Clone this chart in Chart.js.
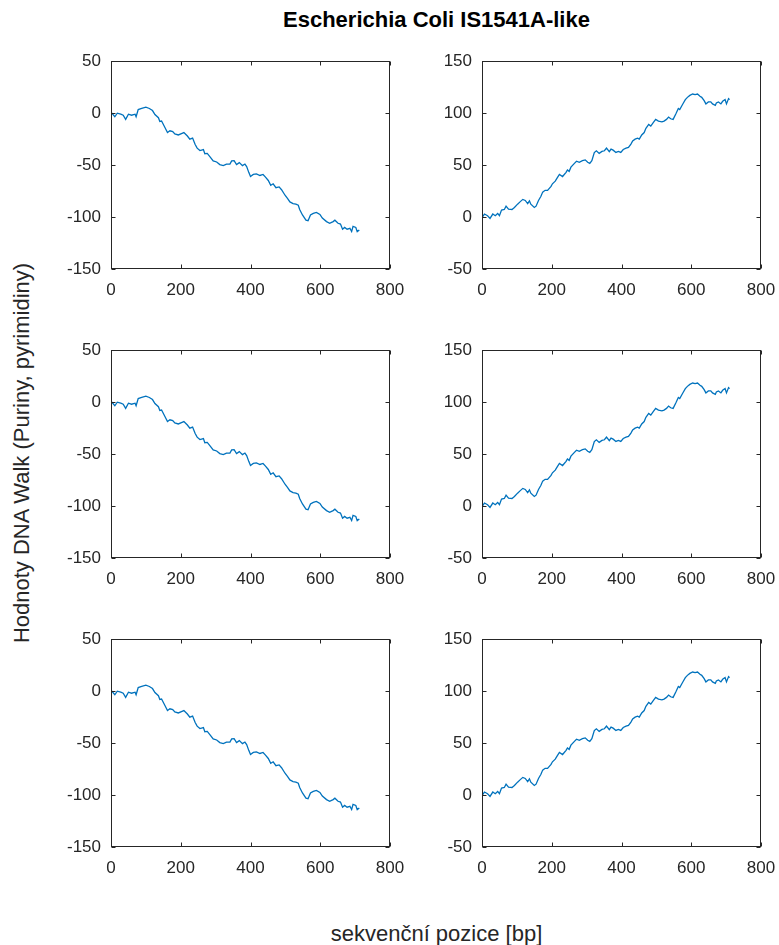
<!DOCTYPE html>
<html>
<head>
<meta charset="utf-8">
<script src="https://cdn.jsdelivr.net/npm/chart.js@4.4.1/dist/chart.umd.min.js"></script>
<style>
  html, body { margin:0; padding:0; background:#fff; }
  body { width:779px; height:945px; position:relative; overflow:hidden; font-family:"Liberation Sans", Arial, sans-serif; }
  canvas { position:absolute; }
  .txt { position:absolute; color:#000; white-space:nowrap; line-height:1; }
</style>
</head>
<body>
<div class="txt" id="title" style="left:0;width:873px;top:9px;text-align:center;font-weight:bold;font-size:22px;">Escherichia Coli IS1541A-like</div>
<div class="txt" id="ylab" style="left:22px;top:453px;font-size:22px;color:#262626;transform:translate(-50%,-50%) rotate(-90deg);">Hodnoty DNA Walk (Puriny, pyrimidiny)</div>
<div class="txt" id="xlab" style="left:0;width:873px;top:923px;text-align:center;font-size:22px;color:#262626;">sekvenční pozice [bp]</div>

<script>
// ---- Data ----
const xTicks = [0, 200, 400, 600, 800];
const yTicksLeft = [-150, -100, -50, 0, 50];
const yTicksRight = [-50, 0, 50, 100, 150];

// Left column: purine/pyrimidine walk (falling)
const posLeft = [0, 11, 18, 28, 35, 42, 50, 59, 69, 72, 78, 88, 100, 110, 119, 126, 136, 140, 145, 155,
  162, 169, 177, 183, 193, 202, 209, 219, 226, 234, 241, 247, 255, 265, 269, 276, 284, 293, 303, 312,
  322, 331, 341, 346, 353, 360, 368, 377, 384, 389, 395, 400, 408, 417, 427, 436, 443, 451, 458, 465,
  473, 482, 489, 499, 506, 513, 522, 530, 537, 541, 549, 559, 565, 572, 580, 589, 599, 606, 618, 627,
  637, 642, 651, 658, 664, 670, 677, 685, 690, 694, 702, 706, 712];
const walkLeft = [1, -3.5, 0, -1, -2, -6, -1, -2, -1, -3.5, 3.5, 4.5, 5.7, 4.5, 2.5, -1.3, -4.4, -8, -7.6, -14,
  -18.7, -17, -17.8, -20, -21, -19.7, -18.7, -22, -25, -24, -30, -33.7, -36, -35, -39, -38.7, -42, -46, -47, -49.5,
  -50.5, -49, -49, -46, -45.7, -49.5, -47.6, -50.5, -49, -51.4, -57, -61, -59, -58.4, -60, -59, -61.6, -64.8, -69.5, -68,
  -71.7, -71, -73.7, -79, -82, -85.4, -87, -87.6, -88.6, -92.7, -98, -103, -103.5, -98, -96.5, -95.5, -97.5, -101, -104.4, -106,
  -104.4, -103, -106, -106.7, -111.7, -110, -111.7, -110.8, -114, -109, -110, -114, -112.4];

// Right column: walk (rising)
const posRight = [0, 7, 16, 23, 31, 38, 45, 50, 56, 64, 69, 76, 86, 93, 102, 109, 117, 124, 131, 136,
  140, 150, 155, 162, 169, 174, 181, 188, 198, 202, 210, 217, 222, 231, 241, 245, 250, 255, 265, 271,
  279, 288, 296, 303, 309, 315, 322, 328, 336, 344, 351, 357, 365, 370, 376, 384, 391, 398, 405, 413,
  420, 427, 432, 439, 446, 451, 458, 465, 470, 478, 484, 491, 498, 506, 516, 522, 529, 535, 541, 548,
  556, 563, 567, 575, 583, 589, 596, 604, 611, 618, 625, 630, 637, 642, 649, 656, 661, 669, 672, 678,
  685, 690, 697, 701, 707, 710];
const walkRight = [-0.6, 2.9, 1.3, -1.3, 2.9, 1.3, 3.5, 1.3, 6.7, 7.3, 10.5, 7.6, 7.3, 9.2, 12.4, 14.6, 17, 16, 13, 15.6,
  12.4, 9.2, 10.5, 16, 20, 24, 25.7, 25.7, 29.5, 32, 34.6, 38.4, 41, 39, 43, 45.4, 44, 48, 51.7, 53.7,
  52.7, 54.3, 55, 52.7, 51.7, 54.3, 62, 63.8, 61.3, 63.2, 63.8, 66.3, 62.9, 65.4, 64.4, 62.2, 63.2, 62.2, 65, 66.3,
  67, 70.2, 73.3, 75, 75.9, 75, 79, 81.3, 85.4, 89.2, 87.6, 90.8, 94, 92.4, 91.7, 92.4, 94, 96.2, 94.6, 94,
  99.4, 104.4, 103.5, 108.3, 113, 115.2, 117.1, 118.4, 117.8, 118.4, 116.2, 115.2, 112, 108.9, 110.8, 110.8, 108.9, 107.6, 109.8, 110.8,
  108.9, 111.4, 113, 108.9, 114, 113];

// ---- Layout ----
const ML = 60, MR = 30, MT = 12, MB = 40;
const plotW = 279, plotH = 208;
const colLeft = [111, 482];
const rowTop = [61, 350, 639];
const AX = '#262626';

const boxPlugin = {
  id: 'matlabBox',
  afterDraw(chart) {
    const { ctx, chartArea: { left, right, top, bottom }, scales: { x, y } } = chart;
    ctx.save();
    ctx.strokeStyle = AX;
    ctx.lineWidth = 1;
    const L = Math.round(left) + 0.5, R = Math.round(right) - 0.5, T = Math.round(top) + 0.5, B = Math.round(bottom) - 0.5;
    ctx.strokeRect(L, T, R - L, B - T);
    const tl = 4;
    ctx.beginPath();
    x.ticks.forEach(t => {
      const px = Math.round(x.getPixelForValue(t.value)) + 0.5;
      ctx.moveTo(px, B); ctx.lineTo(px, B - tl);
      ctx.moveTo(px, T); ctx.lineTo(px, T + tl);
    });
    y.ticks.forEach(t => {
      const py = Math.round(y.getPixelForValue(t.value)) + 0.5;
      ctx.moveTo(L, py); ctx.lineTo(L + tl, py);
      ctx.moveTo(R, py); ctx.lineTo(R - tl, py);
    });
    ctx.stroke();
    ctx.restore();
  }
};

function makeChart(col, row, pos, vals, yTicks) {
  const c = document.createElement('canvas');
  let w = ML + plotW + MR, h = MT + plotH + MB + 20;
  c.width = w; c.height = h;
  c.style.width = w + 'px'; c.style.height = h + 'px';
  document.body.appendChild(c);
  const pts = pos.map((p, i) => ({ x: p, y: vals[i] }));
  const tickFont = { family: '"Liberation Sans", Arial, sans-serif', size: 17 };
  const ch = new Chart(c, {
    type: 'line',
    data: { datasets: [{ data: pts, borderColor: '#0072BD', borderWidth: 1.3, pointRadius: 0, tension: 0, fill: false }] },
    options: {
      responsive: false, maintainAspectRatio: false, animation: false, devicePixelRatio: 1,
      layout: { padding: { left: 0, right: MR, top: MT, bottom: 0 } },
      plugins: { legend: { display: false }, tooltip: { enabled: false } },
      scales: {
        x: {
          type: 'linear', min: xTicks[0], max: xTicks[xTicks.length - 1],
          afterBuildTicks: s => { s.ticks = xTicks.map(v => ({ value: v })); },
          afterFit: s => { s.height = MB; },
          grid: { drawOnChartArea: false, drawTicks: false },
          border: { display: false },
          ticks: { font: tickFont, color: AX, padding: 11, maxRotation: 0, autoSkip: false }
        },
        y: {
          type: 'linear', min: yTicks[0], max: yTicks[yTicks.length - 1],
          afterBuildTicks: s => { s.ticks = yTicks.map(v => ({ value: v })); },
          afterFit: s => { s.width = ML; },
          grid: { drawOnChartArea: false, drawTicks: false },
          border: { display: false },
          ticks: { font: tickFont, color: AX, padding: 10, autoSkip: false }
        }
      }
    },
    plugins: [boxPlugin]
  });
  // make the plot area exactly plotW x plotH
  for (let k = 0; k < 4; k++) {
    const a = ch.chartArea;
    const dw = Math.round(plotW - (a.right - a.left));
    const dh = Math.round(plotH - (a.bottom - a.top));
    if (!dw && !dh) break;
    w += dw; h += dh;
    ch.resize(w, h);
  }
  const a = ch.chartArea;
  c.style.left = (colLeft[col] - a.left) + 'px';
  c.style.top = (rowTop[row] - a.top) + 'px';
}

for (let r = 0; r < 3; r++) {
  makeChart(0, r, posLeft, walkLeft, yTicksLeft);
  makeChart(1, r, posRight, walkRight, yTicksRight);
}
</script>
</body>
</html>
